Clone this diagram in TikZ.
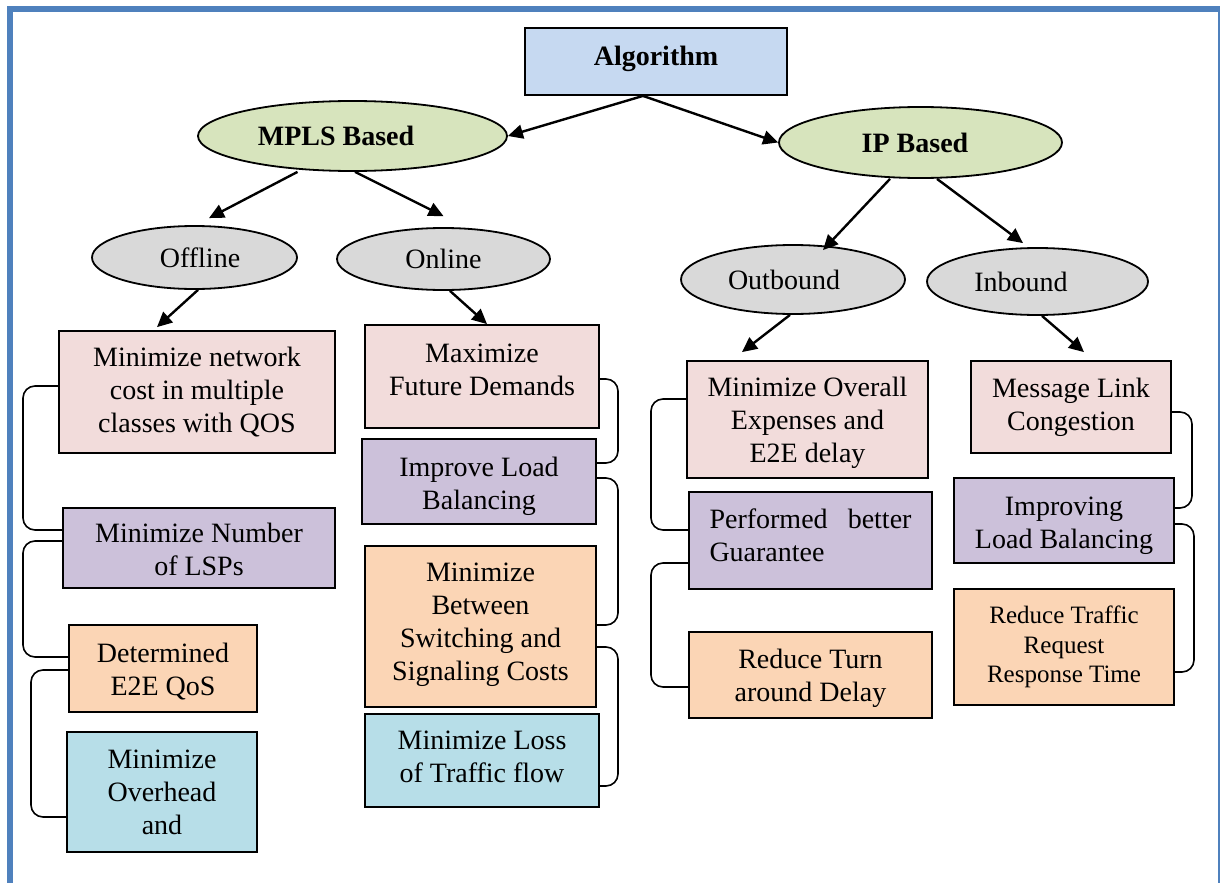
\documentclass[tikz,border=0pt]{standalone}
\usepackage{fontspec}
\setmainfont{Liberation Serif}
\usetikzlibrary{shapes.geometric,arrows.meta}

\definecolor{framecol}{HTML}{4F81BD}
\definecolor{algfill}{HTML}{C6D9F1}
\definecolor{greenfill}{HTML}{D7E4BD}
\definecolor{grayfill}{HTML}{D9D9D9}
\definecolor{pinkfill}{HTML}{F2DCDB}
\definecolor{purplefill}{HTML}{CCC1DA}
\definecolor{orangefill}{HTML}{FBD5B5}
\definecolor{bluefill}{HTML}{B7DEE8}

% move a centred text block up (positive) or down (negative) inside its box
\newcommand\nudge[2]{\raisebox{#1}[\height][\depth]{\begin{tabular}{@{}c@{}}#2\end{tabular}}}

\tikzset{
  txt/.style={font=\fontsize{14}{16.5}\selectfont},
  smalltxt/.style={font=\fontsize{12.5}{14.75}\selectfont},
  boxnode/.style={draw, line width=0.9pt, inner sep=0pt, align=center, txt},
  ellnode/.style={ellipse, draw, line width=0.9pt, inner sep=0pt, align=center, txt},
  arr/.style={line width=1.2pt, -{Triangle[length=7.5pt,width=7pt]}},
  brk/.style={line width=0.8pt, rounded corners=6pt},
}

\begin{document}
\begin{tikzpicture}[x=0.5pt, y=-0.5pt]
\useasboundingbox (0,0) rectangle (1220,883);

% page frame
\fill[framecol] (7,6) rectangle (13,883);
\fill[framecol] (7,6) rectangle (1220,12);
\fill[framecol] (1218,6) rectangle (1220,883);

% root and first level
\node[boxnode, fill=algfill, minimum width=131pt, minimum height=33.5pt] (alg) at (656,61.5) {\nudge{1.5pt}{\textbf{Algorithm}}};
\node[ellnode, fill=greenfill, minimum width=154.5pt, minimum height=35pt] (mpls) at (352.5,136) {\textbf{MPLS Based}\hspace*{16.5pt}};
\node[ellnode, fill=greenfill, minimum width=141.5pt, minimum height=35.5pt] (ip) at (920.5,142.5) {\textbf{IP Based}\hspace*{5.5pt}};

% second level
\node[ellnode, fill=grayfill, minimum width=102.5pt, minimum height=31.5pt] (off) at (194.5,257.5) {\hspace*{5.5pt}Offline};
\node[ellnode, fill=grayfill, minimum width=106.5pt, minimum height=31pt] (on) at (443.5,259) {Online};
\node[ellnode, fill=grayfill, minimum width=112pt, minimum height=34.5pt] (out) at (793,279.5) {Outbound\hspace*{9pt}};
\node[ellnode, fill=grayfill, minimum width=110.5pt, minimum height=33.5pt] (in) at (1037.5,281.5) {Inbound\hspace*{16.5pt}};

% offline objectives
\node[boxnode, fill=pinkfill, minimum width=138pt, minimum height=61pt] (b1) at (197,392) {Minimize network\\cost in multiple\\classes with QOS};
\node[boxnode, fill=purplefill, minimum width=136pt, minimum height=40pt] (b2) at (199,548) {\nudge{-2pt}{Minimize Number\\of LSPs}};
\node[boxnode, fill=orangefill, minimum width=94pt, minimum height=43.5pt] (b3) at (163,668.5) {\nudge{-2pt}{Determined\\E2E QoS}};
\node[boxnode, fill=bluefill, minimum width=95pt, minimum height=60pt] (b4) at (162,792) {Minimize\\Overhead\\and};

% online objectives
\node[boxnode, fill=pinkfill, minimum width=117pt, minimum height=51.5pt] (m1) at (482,376.5) {\nudge{2pt}{Maximize\\Future Demands}};
\node[boxnode, fill=purplefill, minimum width=117pt, minimum height=42.5pt] (m2) at (479,481.5) {\nudge{-2.25pt}{Improve Load\\Balancing}};
\node[boxnode, fill=orangefill, minimum width=115.5pt, minimum height=80.5pt] (m3) at (480.5,626.5) {\nudge{1.25pt}{Minimize\\Between\\Switching and\\Signaling Costs}};
\node[boxnode, fill=bluefill, minimum width=117pt, minimum height=46.5pt] (m4) at (482,760.5) {\nudge{0.5pt}{Minimize Loss\\of Traffic flow}};

% outbound objectives
\node[boxnode, fill=pinkfill, minimum width=120.5pt, minimum height=58.5pt] (o1) at (807.5,419.5) {\nudge{-1.85pt}{Minimize Overall\\Expenses and\\E2E delay}};
\node[boxnode, fill=purplefill, minimum width=121.5pt, minimum height=48.5pt] (o2) at (810.5,540.5) {\raisebox{1pt}[\height][\depth]{\begin{tabular}{@{}l@{}}\makebox[101pt][l]{Performed\hfill better}\\Guarantee\end{tabular}}};
\node[boxnode, fill=orangefill, minimum width=121.5pt, minimum height=43pt] (o3) at (810.5,675) {\nudge{-1.5pt}{Reduce Turn\\around Delay}};

% inbound objectives
\node[boxnode, fill=pinkfill, minimum width=100pt, minimum height=46pt] (i1) at (1071,407) {Message Link\\Congestion};
\node[boxnode, fill=purplefill, minimum width=110pt, minimum height=42.5pt] (i2) at (1064,520.5) {\nudge{-2.25pt}{Improving\\Load Balancing}};
\node[boxnode, fill=orangefill, minimum width=110pt, minimum height=58pt, smalltxt] (i3) at (1064,647) {Reduce Traffic\\Request\\Response Time};

% hierarchy arrows
\coordinate (algfoot) at ([xshift=-6.5pt]alg.south);
\draw[arr] (algfoot) -- (mpls.east);
\draw[arr] (algfoot) -- (ip.west);
\draw[arr] ([xshift=-27.5pt]mpls.south) -- ([xshift=7.25pt,yshift=3.5pt]off.north);
\draw[arr] ([xshift=1.25pt]mpls.south) -- ([yshift=5.5pt]on.north);
\draw[arr] ([xshift=-15.25pt]ip.south) -- ([xshift=15pt,yshift=-3pt]out.north);
\draw[arr] ([xshift=8.25pt]ip.south) -- ([xshift=-7.25pt,yshift=2pt]in.north);
\draw[arr] ([xshift=1.75pt]off.south) -- ([xshift=-20pt,yshift=1.5pt]b1.north);
\draw[arr] ([xshift=3.25pt]on.south) -- ([xshift=2.5pt]m1.north);
\draw[arr] ([xshift=-1.5pt]out.south) -- ([xshift=-32.75pt,yshift=4pt]o1.north);
\draw[arr] ([xshift=2.25pt]in.south) -- ([xshift=6.5pt,yshift=4pt]i1.north);

% brackets linking consecutive objectives
\draw[brk] (b1.west |- 0,386) -| (23,458) |- (b2.west |- 0,530);
\draw[brk] (b2.west |- 0,541) -| (23,600) |- (b3.west |- 0,657);
\draw[brk] (b3.west |- 0,670) -| (31,740) |- (b4.west |- 0,817);

\draw[brk] (m1.east |- 0,379) -| (618,420) |- (m2.east |- 0,463);
\draw[brk] (m2.east |- 0,478) -| (618,550) |- (m3.east |- 0,625);
\draw[brk] (m3.east |- 0,647) -| (618,700) |- (m4.east |- 0,786);

\draw[brk] (o1.west |- 0,399) -| (651,460) |- (o2.west |- 0,530);
\draw[brk] (o2.west |- 0,563) -| (651,620) |- (o3.west |- 0,687);

\draw[brk] (i1.east |- 0,412) -| (1192,460) |- (i2.east |- 0,508);
\draw[brk] (i2.east |- 0,524) -| (1194,600) |- (i3.east |- 0,672);
\end{tikzpicture}
\end{document}
